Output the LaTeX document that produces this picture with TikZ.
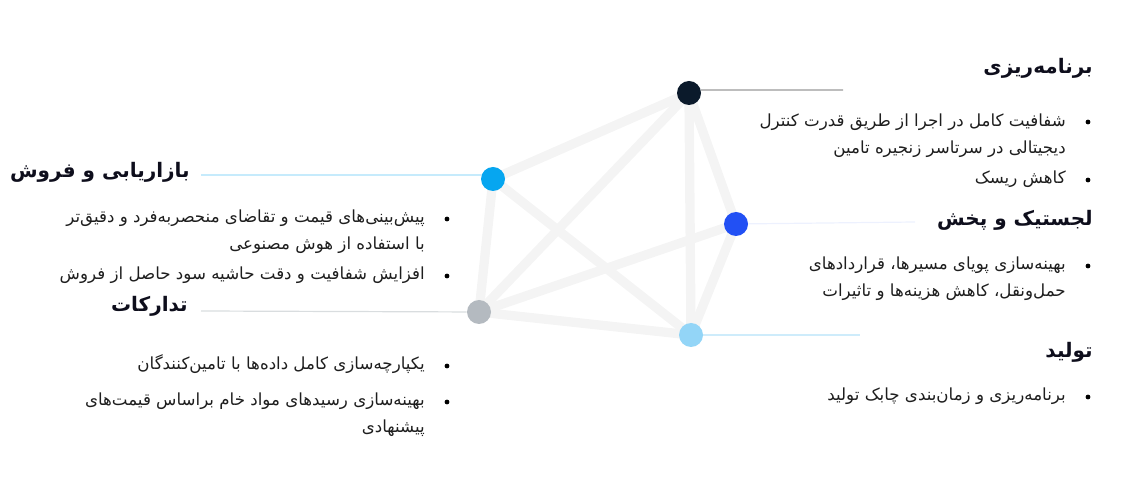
\documentclass[tikz,border=0pt]{standalone}
\usepackage{fontspec}
\TeXXeTstate=1
\newfontfamily\arabicfont[Script=Arabic]{DejaVu Sans}
\usetikzlibrary{backgrounds}

\definecolor{planC}{HTML}{0B1A2B}
\definecolor{marketC}{HTML}{06A6F0}
\definecolor{logisticC}{HTML}{2250F4}
\definecolor{procureC}{HTML}{B4BAC0}
\definecolor{productC}{HTML}{93D5F7}
\definecolor{edgeC}{HTML}{F4F4F4}
\definecolor{titleC}{HTML}{0E0E1C}
\definecolor{bodyC}{HTML}{1E1E1E}

\tikzset{
  dot/.style={circle, inner sep=0pt, minimum size=18pt},
  edge/.style={edgeC, line width=7pt},
  rule/.style={line width=0.9pt},
  title/.style={anchor=base east, inner sep=0pt, text=titleC,
    font=\arabicfont\bfseries\fontsize{15}{18}\selectfont},
  bodytext/.style={anchor=base east, inner sep=0pt, align=right, text=bodyC,
    font=\arabicfont\fontsize{12.5}{20.25}\selectfont},
  bullet/.style={circle, fill=black, inner sep=0pt, minimum size=3.6pt}
}

\begin{document}
\begin{tikzpicture}[x=0.75pt, y=-0.75pt]
  \useasboundingbox (0,0) rectangle (1122,484);

  % the five nodes
  \node[dot, fill=planC] (planning) at (689,93) {};
  \node[dot, fill=marketC] (marketing) at (493,179) {};
  \node[dot, fill=logisticC] (logistics) at (736,224) {};
  \node[dot, fill=procureC] (procurement) at (479,312) {};
  \node[dot, fill=productC] (production) at (691,335) {};

  \begin{pgfonlayer}{background}
    \draw[edge] (planning.center) -- (marketing.center);
    \draw[edge] (planning.center) -- (logistics.center);
    \draw[edge] (planning.center) -- (procurement.center);
    \draw[edge] (planning.center) -- (production.center);
    \draw[edge] (marketing.center) -- (procurement.center);
    \draw[edge] (marketing.center) -- (production.center);
    \draw[edge] (logistics.center) -- (procurement.center);
    \draw[edge] (logistics.center) -- (production.center);
    \draw[edge] (procurement.center) -- (production.center);

    % leader lines
    \coordinate (planEnd) at (843,90);
    \coordinate (marketEnd) at (201,175);
    \coordinate (logisticEnd) at (915,222);
    \coordinate (procureEnd) at (201,311);
    \coordinate (productEnd) at (860,335);
    \draw[rule, color=gray!80] (planning) -- (planEnd -| planning.east) -- (planEnd);
    \draw[rule, color=marketC!35] (marketing) -- (marketEnd -| marketing.west) -- (marketEnd);
    \draw[rule, color=logisticC!8] (logistics) -- (logisticEnd);
    \draw[rule, color=procureC!50] (procurement) -- (procureEnd);
    \draw[rule, color=productC!45] (production) -- (productEnd);
  \end{pgfonlayer}

  % planning
  \node[title] (planTitle) at (1093,74) {\beginR برنامه^^^^200cریزی\endR};
  \node[bullet] (planB1) at (1088,122) {};
  \node[bodytext] (planT1) at (1066,154)
    {\beginR شفافیت کامل در اجرا از طریق قدرت کنترل\endR\\
     \beginR دیجیتالی در سرتاسر زنجیره تامین\endR};
  \node[bullet] (planB2) at (1088,180) {};
  \node[bodytext] (planT2) at (1066,184) {\beginR کاهش ریسک\endR};

  % logistics
  \node[title] (logisticTitle) at (1093,226) {\beginR لجستیک و پخش\endR};
  \node[bullet] (logisticB1) at (1088,266) {};
  \node[bodytext] (logisticT1) at (1066,297)
    {\beginR بهینه^^^^200cسازی پویای مسیرها، قراردادهای\endR\\
     \beginR حمل^^^^200cونقل، کاهش هزینه^^^^200cها و تاثیرات\endR};

  % production
  \node[title] (productTitle) at (1093,358) {\beginR تولید\endR};
  \node[bullet] (productB1) at (1088,397) {};
  \node[bodytext] (productT1) at (1066,401)
    {\beginR برنامه^^^^200cریزی و زمان^^^^200cبندی چابک تولید\endR};

  % marketing
  \node[title] (marketTitle) at (190,178) {\beginR بازاریابی و فروش\endR};
  \node[bullet] (marketB1) at (447,219) {};
  \node[bodytext] (marketT1) at (425,250)
    {\beginR پیش^^^^200cبینی^^^^200cهای قیمت و تقاضای منحصربه^^^^200cفرد و دقیق^^^^200cتر\endR\\
     \beginR با استفاده از هوش مصنوعی\endR};
  \node[bullet] (marketB2) at (447,276) {};
  \node[bodytext] (marketT2) at (425,280)
    {\beginR افزایش شفافیت و دقت حاشیه سود حاصل از فروش\endR};

  % procurement
  \node[title] (procureTitle) at (188,312) {\beginR تدارکات\endR};
  \node[bullet] (procureB1) at (447,366) {};
  \node[bodytext] (procureT1) at (425,370)
    {\beginR یکپارچه^^^^200cسازی کامل داده^^^^200cها با تامین^^^^200cکنندگان\endR};
  \node[bullet] (procureB2) at (447,402) {};
  \node[bodytext] (procureT2) at (425,433)
    {\beginR بهینه^^^^200cسازی رسیدهای مواد خام براساس قیمت^^^^200cهای\endR\\
     \beginR پیشنهادی\endR};
\end{tikzpicture}
\end{document}
